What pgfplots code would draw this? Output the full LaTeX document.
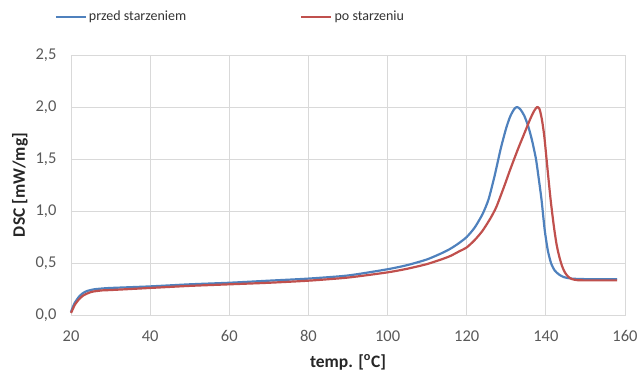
\documentclass[border=0pt]{standalone}
\usepackage{fontspec}
\setmainfont{Carlito}
\usepackage{pgfplots}
\pgfplotsset{compat=1.18}
\definecolor{cblue}{HTML}{4F81BD}
\definecolor{cred}{HTML}{C0504D}
\definecolor{cgrid}{HTML}{D9D9D9}
\definecolor{ctick}{HTML}{595959}
\begin{document}
\fontsize{13bp}{15bp}\selectfont
\begin{tikzpicture}
\useasboundingbox (-71bp,-59bp) rectangle (567bp,315bp);
\begin{axis}[
  at={(0,0)}, anchor=south west,
  scale only axis,
  width=554bp, height=260bp,
  xmin=20, xmax=160, ymin=0, ymax=2.5,
  xtick={20,40,...,160}, ytick={0,0.5,...,2.5},
  grid=major,
  grid style={cgrid, line width=0.8pt},
  axis line style={cgrid, line width=0.8pt},
  major tick length=0pt,
  tick label style={font=\fontsize{16.5bp}{19bp}\selectfont, text=ctick},
  /pgf/number format/assume math mode=true,
  yticklabel style={/pgf/number format/use comma, /pgf/number format/fixed, /pgf/number format/fixed zerofill, /pgf/number format/precision=1, xshift=-10bp},
  xticklabel style={yshift=-11bp},
  xlabel={\bfseries temp. [\textsuperscript{o}C]},
  ylabel={\bfseries DSC [mW/mg]},
  label style={font=\fontsize{17.5bp}{20bp}\selectfont, text=black!85},
  xlabel style={at={(axis description cs:0.5,-0.181)}, anchor=center},
  ylabel style={at={(axis description cs:-0.092,0.5)}, anchor=center},
  legend columns=2,
  legend style={at={(-0.03,1.146)}, anchor=west, draw=none, fill=none,
    font=\fontsize{14bp}{16bp}\selectfont, text=black!80,
    /tikz/every even column/.append style={column sep=112bp},
    inner sep=0pt, nodes={inner sep=2bp}},
  legend image code/.code={\draw[#1, line width=2.4pt] (0bp,0bp) -- (30bp,0bp);},
  clip=false,
]
\addplot[cblue, line width=2.2pt, smooth, tension=0.4, line join=round] coordinates {
(20,0.03) (20.5,0.08) (21,0.12) (22,0.175) (23,0.21) (24,0.23) (25,0.24) (26,0.248)
(28,0.255) (30,0.26) (40,0.275) (50,0.295) (60,0.31) (70,0.33) (80,0.35) (90,0.38)
(100,0.44) (105,0.48) (110,0.535) (114,0.60) (116,0.64) (118,0.69) (120,0.75)
(122,0.84) (124,0.97) (125.5,1.11) (127,1.33) (128.6,1.60) (130,1.80) (131,1.91)
(132,1.98) (132.7,2.0) (133.5,1.98) (134.5,1.92) (135.5,1.82) (136.5,1.68)
(137.5,1.50) (138.1,1.34) (138.9,1.11) (139.7,0.82) (140.5,0.62) (141.3,0.50)
(142.2,0.43) (143.3,0.39) (144.5,0.365) (146.5,0.35) (150,0.345) (158,0.345)
};
\addlegendentry{przed starzeniem}
\addplot[cred, line width=2.2pt, smooth, tension=0.4, line join=round] coordinates {
(20,0.02) (20.5,0.06) (21,0.10) (22,0.15) (23,0.185) (24,0.205) (25,0.22) (26,0.228)
(28,0.237) (30,0.24) (40,0.26) (50,0.28) (60,0.295) (70,0.31) (80,0.33) (90,0.36)
(100,0.41) (105,0.445) (110,0.49) (114,0.54) (116,0.57) (118,0.61) (120,0.65)
(122,0.72) (124,0.81) (126,0.93) (127.5,1.04) (129.5,1.24) (131,1.40) (133,1.60)
(134.5,1.74) (136,1.88) (137,1.96) (137.8,2.0) (138.4,1.98) (139,1.88) (139.6,1.72)
(140.3,1.45) (141.2,1.11) (142,0.86) (142.7,0.68) (143.4,0.56) (144.1,0.47)
(144.8,0.41) (145.6,0.37) (146.6,0.345) (148,0.335) (150,0.333) (158,0.333)
};
\addlegendentry{po starzeniu}
\end{axis}
\end{tikzpicture}
\end{document}
